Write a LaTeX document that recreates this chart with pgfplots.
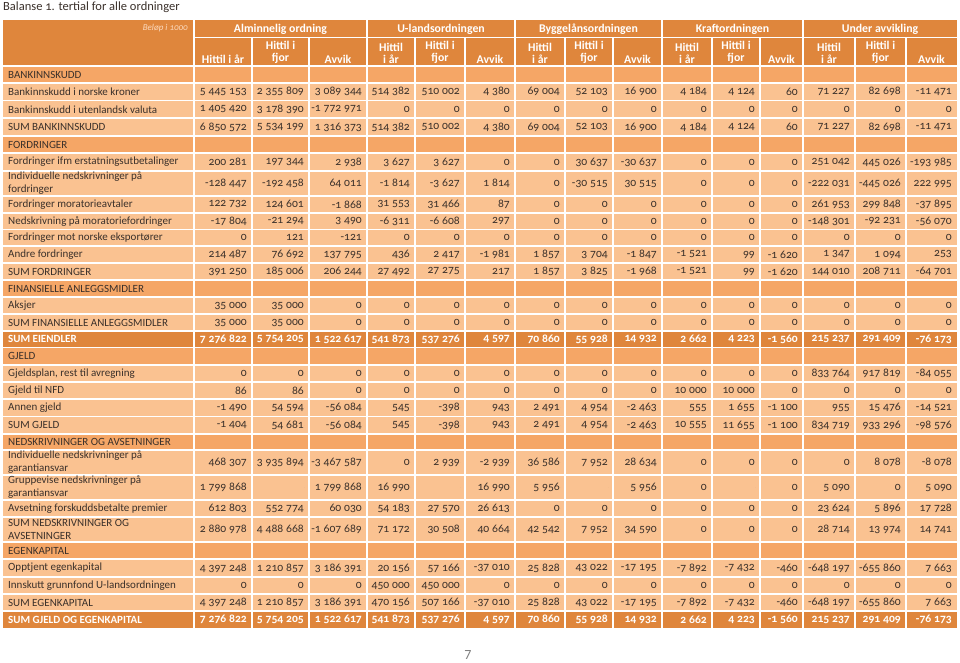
\documentclass[border=0pt]{standalone}
\usepackage{pgfplots}
\pgfplotsset{compat=1.18}
\usepackage{pgfplotstable}
\usepackage{fontspec}
\setmainfont{Carlito}[Numbers=OldStyle]

\definecolor{hdr}{RGB}{223,134,60}
\definecolor{sec}{RGB}{245,166,102}
\definecolor{cell}{RGB}{250,194,145}
\definecolor{txt}{RGB}{58,48,42}
\definecolor{hdrlight}{RGB}{252,218,190}

\protected\def\nl{\\}
\newcommand\tabfont{\fontsize{11}{13}\selectfont}
\newcommand\numfont{\fontsize{11.6}{13}\selectfont}
\newcommand\hdfont{\bfseries\fontsize{11.8}{12.5}\selectfont}

\pgfkeys{/pgf/number format/.cd, fixed, precision=0, 1000 sep={\hspace{0.25em}}, assume math mode=true}

% kind: 0 = ordinary row, 1 = section heading, 2 = sum row on dark fill
\pgfplotstableread[col sep=semicolon]{
yc;kind;label;a1;a2;a3;u1;u2;u3;b1;b2;b3;k1;k2;k3;v1;v2;v3
74.5;1;BANKINNSKUDD;nan;nan;nan;nan;nan;nan;nan;nan;nan;nan;nan;nan;nan;nan;nan
91.75;0;Bankinnskudd i norske kroner;5445153;2355809;3089344;514382;510002;4380;69004;52103;16900;4184;4124;60;71227;82698;-11471
109.25;0;Bankinnskudd i utenlandsk valuta;1405420;3178390;-1772971;0;0;0;0;0;0;0;0;0;0;0;0
127;0;SUM BANKINNSKUDD;6850572;5534199;1316373;514382;510002;4380;69004;52103;16900;4184;4124;60;71227;82698;-11471
144.5;1;FORDRINGER;nan;nan;nan;nan;nan;nan;nan;nan;nan;nan;nan;nan;nan;nan;nan
162;0;Fordringer ifm erstatningsutbetalinger;200281;197344;2938;3627;3627;0;0;30637;-30637;0;0;0;251042;445026;-193985
183.5;0;Individuelle nedskrivninger på\nl fordringer;-128447;-192458;64011;-1814;-3627;1814;0;-30515;30515;0;0;0;-222031;-445026;222995
204.5;0;Fordringer moratorieavtaler;122732;124601;-1868;31553;31466;87;0;0;0;0;0;0;261953;299848;-37895
221.25;0;Nedskrivning på moratoriefordringer;-17804;-21294;3490;-6311;-6608;297;0;0;0;0;0;0;-148301;-92231;-56070
237.75;0;Fordringer mot norske eksportører;0;121;-121;0;0;0;0;0;0;0;0;0;0;0;0
254.5;0;Andre fordringer;214487;76692;137795;436;2417;-1981;1857;3704;-1847;-1521;99;-1620;1347;1094;253
271.5;0;SUM FORDRINGER;391250;185006;206244;27492;27275;217;1857;3825;-1968;-1521;99;-1620;144010;208711;-64701
288.5;1;FINANSIELLE ANLEGGSMIDLER;nan;nan;nan;nan;nan;nan;nan;nan;nan;nan;nan;nan;nan;nan;nan
305.5;0;Aksjer;35000;35000;0;0;0;0;0;0;0;0;0;0;0;0;0
322.5;0;SUM FINANSIELLE ANLEGGSMIDLER;35000;35000;0;0;0;0;0;0;0;0;0;0;0;0;0
339.25;2;SUM EIENDLER;7276822;5754205;1522617;541873;537276;4597;70860;55928;14932;2662;4223;-1560;215237;291409;-76173
356.25;1;GJELD;nan;nan;nan;nan;nan;nan;nan;nan;nan;nan;nan;nan;nan;nan;nan
373.5;0;Gjeldsplan, rest til avregning;0;0;0;0;0;0;0;0;0;0;0;0;833764;917819;-84055
390.5;0;Gjeld til NFD;86;86;0;0;0;0;0;0;0;10000;10000;0;0;0;0
407.75;0;Annen gjeld;-1490;54594;-56084;545;-398;943;2491;4954;-2463;555;1655;-1100;955;15476;-14521
425.25;0;SUM GJELD;-1404;54681;-56084;545;-398;943;2491;4954;-2463;10555;11655;-1100;834719;933296;-98576
442;1;NEDSKRIVNINGER OG AVSETNINGER;nan;nan;nan;nan;nan;nan;nan;nan;nan;nan;nan;nan;nan;nan;nan
462.5;0;Individuelle nedskrivninger på\nl garantiansvar;468307;3935894;-3467587;0;2939;-2939;36586;7952;28634;0;0;0;0;8078;-8078
487.5;0;Gruppevise nedskrivninger på\nl garantiansvar;1799868;nan;1799868;16990;nan;16990;5956;nan;5956;0;nan;0;5090;0;5090
508.5;0;Avsetning forskuddsbetalte premier;612803;552774;60030;54183;27570;26613;0;0;0;0;0;0;23624;5896;17728
529.5;0;SUM NEDSKRIVNINGER OG\nl AVSETNINGER;2880978;4488668;-1607689;71172;30508;40664;42542;7952;34590;0;0;0;28714;13974;14741
550.5;1;EGENKAPITAL;nan;nan;nan;nan;nan;nan;nan;nan;nan;nan;nan;nan;nan;nan;nan
568;0;Opptjent egenkapital;4397248;1210857;3186391;20156;57166;-37010;25828;43022;-17195;-7892;-7432;-460;-648197;-655860;7663
585.5;0;Innskutt grunnfond U-landsordningen;0;0;0;450000;450000;0;0;0;0;0;0;0;0;0;0
602.5;0;SUM EGENKAPITAL;4397248;1210857;3186391;470156;507166;-37010;25828;43022;-17195;-7892;-7432;-460;-648197;-655860;7663
619.5;2;SUM GJELD OG EGENKAPITAL;7276822;5754205;1522617;541873;537276;4597;70860;55928;14932;2662;4223;-1560;215237;291409;-76173
}\balanse

\pgfplotsset{
  textonly/.style={only marks, mark=*, mark size=0pt, mark options={draw=none, fill=none}},
  % empty cells (nan) print nothing
  cellnum/.style={textonly, point meta=explicit,
    nodes near coords={\pgfmathfloatifflags{\pgfplotspointmeta}{3}{}{\pgfmathprintnumber{\pgfplotspointmeta}}},
    nodes near coords align={anchor=east},
    every node near coord/.append style={inner sep=0pt, font=\numfont, text=txt}},
  darkrow/.style={every node near coord/.append style={text=white, font=\bfseries\numfont}},
}
\tikzset{hd/.style={anchor=south, inner sep=0pt, align=center, text=white, font=\hdfont}}

% one column of numbers: ordinary rows, then the dark sum rows
\newcommand\numcol[2]{%
  \addplot[cellnum, restrict expr to domain={\thisrow{kind}}{0:0}]
    table[x expr=#2, y=yc, meta=#1]{\balanse};
  \addplot[cellnum, darkrow, restrict expr to domain={\thisrow{kind}}{2:2}]
    table[x expr=#2, y=yc, meta=#1]{\balanse};
}

\begin{document}
\begin{tikzpicture}
\begin{axis}[
    scale only axis,
    width=960pt, height=661pt,
    xmin=0, xmax=960, ymin=0, ymax=661,
    y dir=reverse,
    hide axis,
    clip=false,
]
\path (axis cs:0,0) rectangle (axis cs:960,661);

% === fills ===
\fill[cell] (axis cs:3,66) rectangle (axis cs:957,628);
\fill[hdr] (axis cs:3,20) rectangle (axis cs:957,66);
\fill[sec] (axis cs:3,66) rectangle (axis cs:957,83);
\fill[sec] (axis cs:3,136) rectangle (axis cs:957,153);
\fill[sec] (axis cs:3,280) rectangle (axis cs:957,297);
\fill[sec] (axis cs:3,347.5) rectangle (axis cs:957,365);
\fill[sec] (axis cs:3,434) rectangle (axis cs:957,450);
\fill[sec] (axis cs:3,542) rectangle (axis cs:957,559);
\fill[hdr] (axis cs:3,331) rectangle (axis cs:957,347.5);
\fill[hdr] (axis cs:3,611) rectangle (axis cs:957,628);

% === white grid ===
\pgfplotsinvokeforeach{66,83,100.5,118,136,153,171,196,213,229.5,246,263,280,297,314,331,347.5,365,382,399,416.5,434,450,475,500,517,542,559,577,594,611}{
  \draw[white, line width=1.2pt] (axis cs:3,#1) -- (axis cs:957,#1);
}
\draw[white, line width=1.2pt] (axis cs:194,37.5) -- (axis cs:957,37.5);
\pgfplotsinvokeforeach{194,367,515,662,803}{
  \draw[white, line width=1.2pt] (axis cs:#1,20) -- (axis cs:#1,628);
}
\pgfplotsinvokeforeach{252,309,415,465,565,613,712,760,855,906}{
  \draw[white, line width=1.2pt] (axis cs:#1,37.5) -- (axis cs:#1,628);
}

% === title and headers ===
\node[anchor=west, inner sep=0pt, text=txt, font=\fontsize{12.5}{14}\selectfont] at (axis cs:3,7) {Balanse 1. tertial for alle ordninger};
\node[anchor=east, inner sep=0pt, text=hdrlight, font=\itshape\fontsize{9}{10}\selectfont] at (axis cs:188,28) {Beløp i 1000};
\node[text=white, font=\hdfont] at (axis cs:280.5,29) {Alminnelig ordning};
\node[text=white, font=\hdfont] at (axis cs:441,29) {U-landsordningen};
\node[text=white, font=\hdfont] at (axis cs:588.5,29) {Byggelånsordningen};
\node[text=white, font=\hdfont] at (axis cs:732.5,29) {Kraftordningen};
\node[text=white, font=\hdfont] at (axis cs:880,29) {Under avvikling};

\node[hd] at (axis cs:223,64) {Hittil i år};
\node[hd] at (axis cs:280.5,64) {Hittil i\\fjor};
\node[hd] at (axis cs:338,64) {Avvik};
\pgfplotsinvokeforeach{391,540,687,829}{\node[hd] at (axis cs:#1,64) {Hittil\\i år};}
\pgfplotsinvokeforeach{440,589,736,880.5}{\node[hd] at (axis cs:#1,64) {Hittil i\\fjor};}
\pgfplotsinvokeforeach{490,637.5,781.5,931.5}{\node[hd] at (axis cs:#1,64) {Avvik};}

% === row labels ===
\addplot[textonly, point meta=explicit symbolic, nodes near coords,
  nodes near coords align={anchor=west},
  every node near coord/.append style={inner sep=0pt, align=left, font=\tabfont, text=txt},
  restrict expr to domain={\thisrow{kind}}{0:1}]
  table[x expr=8, y=yc, meta=label]{\balanse};
\addplot[textonly, point meta=explicit symbolic, nodes near coords,
  nodes near coords align={anchor=west},
  every node near coord/.append style={inner sep=0pt, align=left, font=\bfseries\tabfont, text=white},
  restrict expr to domain={\thisrow{kind}}{2:2}]
  table[x expr=8, y=yc, meta=label]{\balanse};

% === numbers ===
\numcol{a1}{247}
\numcol{a2}{304}
\numcol{a3}{362}
\numcol{u1}{410}
\numcol{u2}{460}
\numcol{u3}{510}
\numcol{b1}{560}
\numcol{b2}{608}
\numcol{b3}{657}
\numcol{k1}{707}
\numcol{k2}{755}
\numcol{k3}{798}
\numcol{v1}{850}
\numcol{v2}{901}
\numcol{v3}{952}

\node[text=gray, font=\addfontfeatures{Numbers=Lining}\fontsize{14}{16}\selectfont] at (axis cs:468,655) {7};
\end{axis}
\end{tikzpicture}
\end{document}
